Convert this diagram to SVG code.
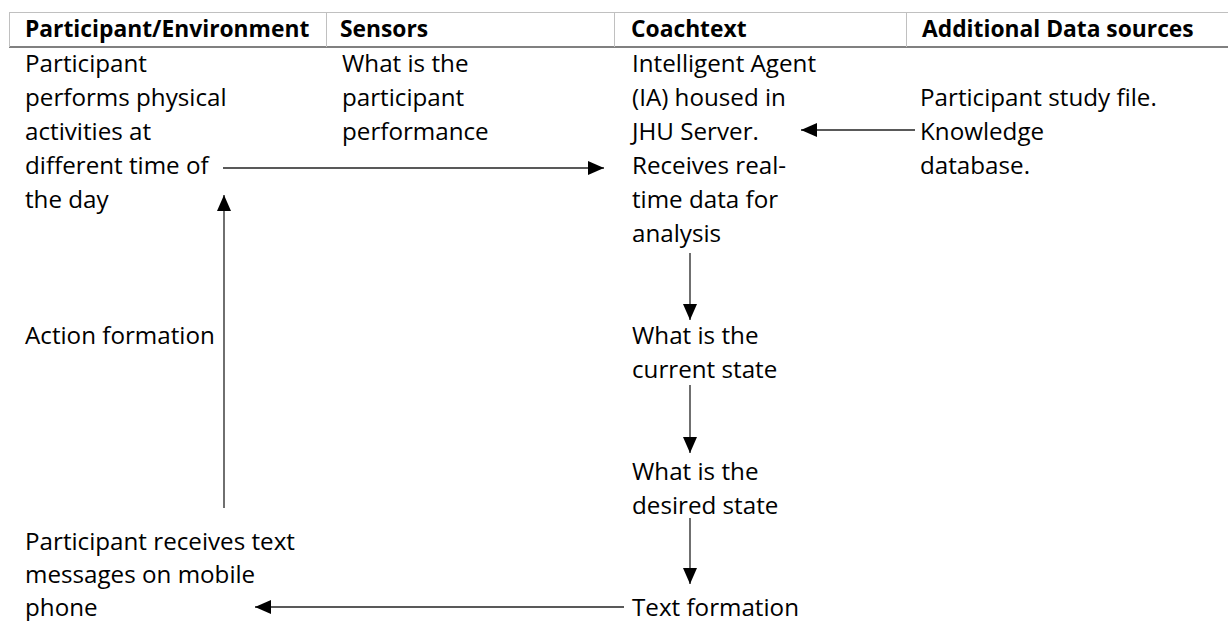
<svg xmlns="http://www.w3.org/2000/svg" width="1228" height="621" viewBox="0 0 1228 621">
<style>
text{font-family:"Open Sans","Liberation Sans",sans-serif;font-size:24.2px;fill:#000}
.h{font-weight:bold;font-size:22.8px}
.conn line{stroke:#222;stroke-width:1.3;fill:none}
</style>
<defs>
<marker id="ah" viewBox="0 0 16 14" refX="16" refY="7" markerWidth="16" markerHeight="14" markerUnits="userSpaceOnUse" orient="auto">
<path d="M0,0 L16,7 L0,14 Z" fill="#000"/>
</marker>
</defs>
<rect width="1228" height="621" fill="#fff"/>
<g id="header">
<line x1="9" y1="12.5" x2="1228" y2="12.5" stroke="#c0c0c0" stroke-width="1"/>
<line x1="9" y1="47" x2="1228" y2="47" stroke="#808080" stroke-width="2"/>
<line x1="9.5" y1="12" x2="9.5" y2="47" stroke="#c0c0c0" stroke-width="1"/>
<line x1="326.5" y1="12" x2="326.5" y2="47" stroke="#c0c0c0" stroke-width="1"/>
<line x1="614.5" y1="12" x2="614.5" y2="47" stroke="#c0c0c0" stroke-width="1"/>
<line x1="906.5" y1="12" x2="906.5" y2="47" stroke="#c0c0c0" stroke-width="1"/>
<text class="h" x="25" y="37">Participant/Environment</text>
<text class="h" x="340" y="37">Sensors</text>
<text class="h" x="631" y="37">Coachtext</text>
<text class="h" x="922" y="37">Additional Data sources</text>
</g>
<g id="participant-activity">
<text x="25" y="72">Participant</text>
<text x="25" y="106">performs physical</text>
<text x="25" y="140">activities at</text>
<text x="25" y="174">different time of</text>
<text x="25" y="208">the day</text>
</g>
<g id="sensors">
<text x="342" y="72">What is the</text>
<text x="342" y="106">participant</text>
<text x="342" y="140">performance</text>
</g>
<g id="intelligent-agent">
<text x="632" y="72">Intelligent Agent</text>
<text x="632" y="106">(IA) housed in</text>
<text x="632" y="140">JHU Server.</text>
<text x="632" y="174">Receives real-</text>
<text x="632" y="208">time data for</text>
<text x="632" y="242">analysis</text>
</g>
<g id="data-sources">
<text x="920" y="106">Participant study file.</text>
<text x="920" y="140">Knowledge</text>
<text x="920" y="174">database.</text>
</g>
<g id="action-formation">
<text x="25" y="344">Action formation</text>
</g>
<g id="current-state">
<text x="632" y="344">What is the</text>
<text x="632" y="378">current state</text>
</g>
<g id="desired-state">
<text x="632" y="480">What is the</text>
<text x="632" y="514">desired state</text>
</g>
<g id="participant-receives">
<text x="25" y="550">Participant receives text</text>
<text x="25" y="583">messages on mobile</text>
<text x="25" y="616">phone</text>
</g>
<g id="text-formation">
<text x="632" y="616">Text formation</text>
</g>
<g id="connectors" class="conn">
<line x1="223" y1="168" x2="604" y2="168" marker-end="url(#ah)"/>
<line x1="915" y1="130" x2="801" y2="130" marker-end="url(#ah)"/>
<line x1="224" y1="508" x2="224" y2="195" marker-end="url(#ah)"/>
<line x1="690" y1="253" x2="690" y2="320" marker-end="url(#ah)"/>
<line x1="690" y1="385" x2="690" y2="453" marker-end="url(#ah)"/>
<line x1="690" y1="518" x2="690" y2="584" marker-end="url(#ah)"/>
<line x1="624" y1="607" x2="255" y2="607" marker-end="url(#ah)"/>
</g>
</svg>
